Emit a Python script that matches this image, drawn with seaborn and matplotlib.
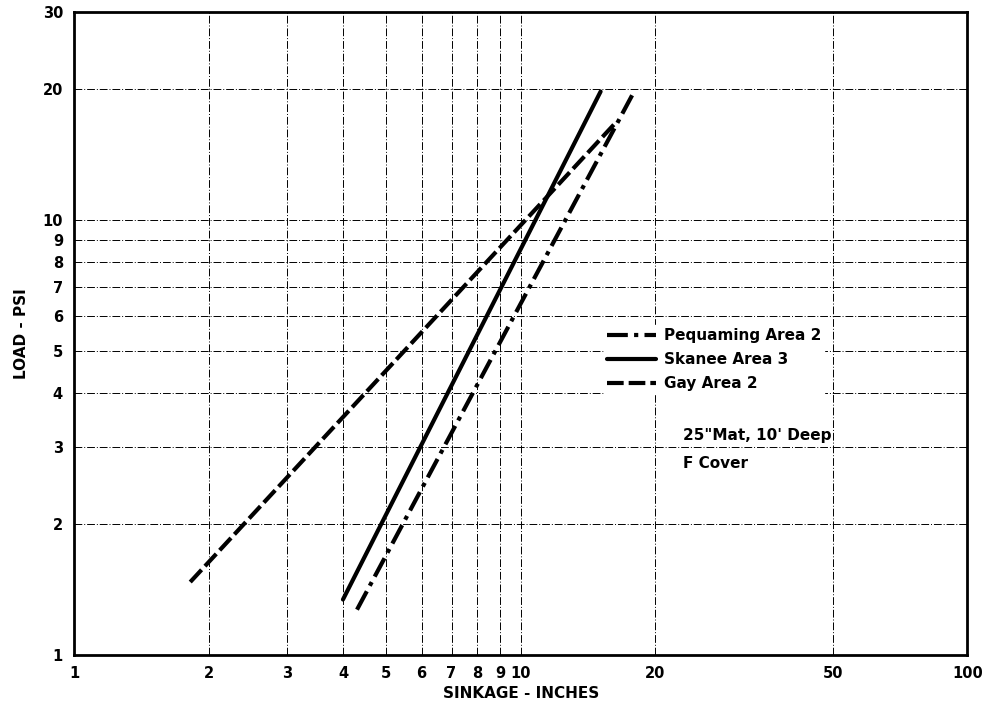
import pandas as pd
import matplotlib
matplotlib.use('Agg')
import matplotlib.pyplot as plt
import seaborn as sns

# series (sinkage in inches, load in psi)
series_names = ['Pequaming Area 2', 'Skanee Area 3', 'Gay Area 2']
pequaming_x = [4.3, 17.9]
pequaming_y = [1.27, 19.6]
skanee_x = [4.0, 15.1]
skanee_y = [1.34, 19.7]
gay_x = [1.82, 16.4]
gay_y = [1.47, 16.8]

x_ticks = [1, 2, 3, 4, 5, 6, 7, 8, 9, 10, 20, 50, 100]
y_ticks = [1, 2, 3, 4, 5, 6, 7, 8, 9, 10, 20, 30]
note_lines = ['25"Mat, 10\' Deep', 'F Cover']

df = pd.concat([
    pd.DataFrame({'sinkage': pequaming_x, 'load': pequaming_y, 'series': series_names[0]}),
    pd.DataFrame({'sinkage': skanee_x, 'load': skanee_y, 'series': series_names[1]}),
    pd.DataFrame({'sinkage': gay_x, 'load': gay_y, 'series': series_names[2]}),
])

sns.set_theme(style='white')
plt.rcParams['font.family'] = ['DejaVu Sans']
plt.rcParams['text.color'] = 'black'
plt.rcParams['axes.labelcolor'] = 'black'
plt.rcParams['xtick.color'] = 'black'
plt.rcParams['ytick.color'] = 'black'

fig = plt.figure(figsize=(9.88, 7.11), dpi=100)
ax = fig.add_axes([0.075, 0.079, 0.904, 0.904])
ax.set_xscale('log')
ax.set_yscale('log')

sns.lineplot(data=df, x='sinkage', y='load', hue='series', style='series',
             hue_order=series_names, style_order=series_names,
             palette=['black'] * 3,
             dashes={series_names[0]: (5, 1.5, 1, 1.5), series_names[1]: '',
                     series_names[2]: (4, 1.2)},
             linewidth=3, legend=False, ax=ax)

ax.set_xlim(1, 100)
ax.set_ylim(1, 30)
ax.set_xticks(x_ticks)
ax.set_xticklabels([str(t) for t in x_ticks])
ax.set_yticks(y_ticks)
ax.set_yticklabels([str(t) for t in y_ticks])
ax.minorticks_off()
ax.tick_params(labelsize=10.5, length=0, pad=8)
for lab in ax.get_xticklabels() + ax.get_yticklabels():
    lab.set_fontweight('bold')

# grid like the printed log paper
ax.grid(True, which='major', color='black', linewidth=0.7, linestyle=(0, (8, 2, 1, 2)))
for s in ax.spines.values():
    s.set_color('black')
    s.set_linewidth(2)

ax.set_xlabel('SINKAGE - INCHES', fontsize=11, fontweight='bold', labelpad=4)
ax.set_ylabel('LOAD - PSI', fontsize=11, fontweight='bold', labelpad=10)

leg = ax.legend(handles=ax.lines[:3], labels=series_names, loc='upper left',
                bbox_to_anchor=(0.585, 0.525), frameon=True, framealpha=1,
                edgecolor='white', fancybox=False, handlelength=3.2,
                handletextpad=0.5, labelspacing=0.6, borderpad=0.2)
for t in leg.get_texts():
    t.set_fontweight('bold')
    t.set_fontsize(11)
for i, line in enumerate(note_lines):
    ax.text(0.682, 0.342 - i * 0.044, line, transform=ax.transAxes, fontsize=11,
            fontweight='bold', va='center', ha='left',
            bbox=dict(facecolor='white', edgecolor='none', pad=1))

fig.savefig('out.png', dpi=100)
